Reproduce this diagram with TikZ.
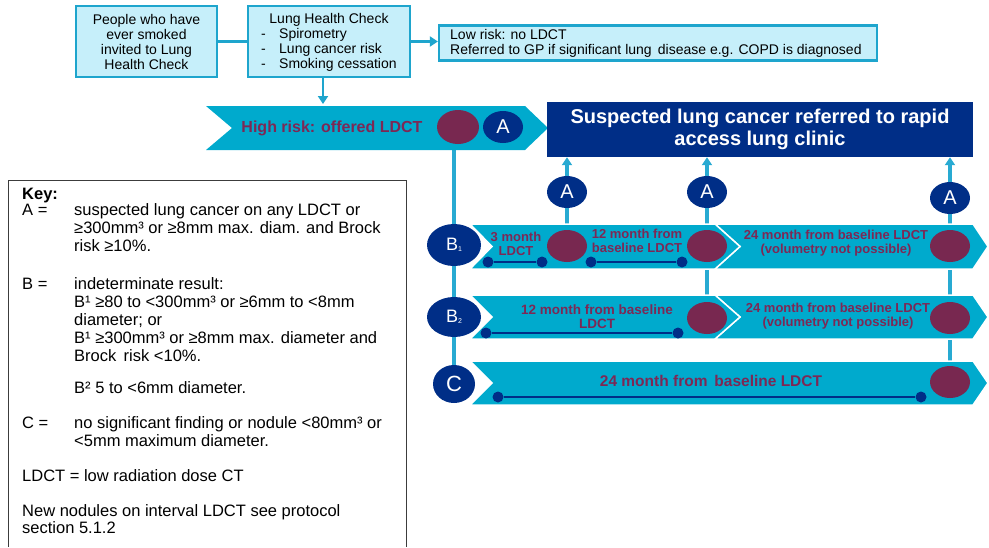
\documentclass[tikz,border=0pt]{standalone}
\usepackage{fontspec}
\setmainfont{Liberation Sans}
\usetikzlibrary{shapes.geometric,arrows.meta}
\definecolor{band}{RGB}{0,170,205}
\definecolor{boxfill}{RGB}{198,239,250}
\definecolor{boxedge}{RGB}{30,165,205}
\definecolor{vcol}{RGB}{40,170,210}
\definecolor{navy}{RGB}{0,46,135}
\definecolor{maroon}{RGB}{120,40,80}
\definecolor{plum}{RGB}{125,40,85}
\definecolor{keyedge}{RGB}{60,60,60}
\newcommand\setfs[2]{\fontsize{#1}{#2}\selectfont}
\pgfdeclarelayer{bg}\pgfdeclarelayer{mid}\pgfsetlayers{bg,mid,main}
\begin{document}
\begin{tikzpicture}[x=1pt,y=-1pt,
  lbox/.style={draw=boxedge, fill=boxfill, line width=2.2pt, inner sep=0},
  conn/.style={draw=boxedge, line width=2.4pt},
  arr/.style={-{Triangle[length=8pt,width=10pt]}},
  small/.style={font=\setfs{14}{15}, inner sep=0, text height=10, text depth=3},
  navyell/.style={ellipse, fill=navy, minimum width=40, minimum height=32, inner sep=0, text=white, font=\setfs{20}{20}},
  bell/.style={ellipse, fill=navy, minimum width=54, minimum height=42, inner sep=0, text=white, font=\setfs{18}{18}},
  marell/.style={ellipse, fill=maroon, minimum width=42, minimum height=34, inner sep=0},
  rowt/.style={text=plum, font=\bfseries\setfs{13}{14}, align=center, inner sep=0},
  vline/.style={draw=vcol, line width=3.4pt},
  dot/.style={circle, fill=navy, minimum size=11, inner sep=0},
  tl/.style={draw=navy, line width=2.2pt},
  keyt/.style={anchor=west, font=\setfs{16.5}{17}, text height=11, text depth=1, inner sep=0},
  segs/.style={fill=band, draw=white, line width=1.5pt, line join=miter}
]
\useasboundingbox (0,0) rectangle (989,547);

% ---------- top boxes ----------
\node[lbox, minimum width=141, minimum height=71, align=center, font=\setfs{14}{15}] (invite) at (146.5,41.5)
  {People who have\\ever smoked\\invited to Lung\\Health Check};
\node[lbox, minimum width=162, minimum height=71] (lhc) at (329,41.5) {};
\node[small] (lhct) at (329,20) {Lung Health Check};
\node[small, anchor=west] (lhcd1) at (261,35) {-};
\node[small, anchor=west] (lhci1) at (279,35) {Spirometry};
\node[small, anchor=west] (lhcd2) at (261,50) {-};
\node[small, anchor=west] (lhci2) at (279,50) {Lung cancer risk};
\node[small, anchor=west] (lhcd3) at (261,65) {-};
\node[small, anchor=west] (lhci3) at (279,65) {Smoking cessation};
\node[lbox, minimum width=438, minimum height=35] (low) at (658,43) {};
\node[small, anchor=west] (low1) at (450,36) {Low risk: no LDCT};
\node[small, anchor=west] (low2) at (450,51) {Referred to GP if significant lung\, disease e.g. COPD is diagnosed};

\draw[conn] (invite) -- (lhc);
\draw[conn, arr] (lhc.east) -- (lhc.east -| low.west);

% ---------- high risk chevron ----------
\coordinate (hrtop) at (323,104);
\coordinate (hrbot) at (454,150);
\begin{pgfonlayer}{mid}
\fill[band] (206,106) -- (525,106) -- (548,128) -- (525,150) -- (206,150) -- (232,128) -- cycle;
\end{pgfonlayer}
\draw[conn, arr] (hrtop |- lhc.south) -- (hrtop);
\node[text=plum, font=\bfseries\setfs{16}{16}, inner sep=0] (hrtext) at (332,128) {High risk: offered LDCT};
\node[marell] (mhr) at (458,127) {};
\node[navyell] (ahr) at (503,127) {A};

% ---------- clinic box ----------
\node[fill=navy, minimum width=426, minimum height=55, inner sep=0, text=white,
      font=\bfseries\setfs{20}{22}, align=center] (clinic) at (760,129.5)
  {Suspected lung cancer referred to rapid\\access lung clinic};

% ---------- row chevrons ----------
\begin{pgfonlayer}{mid}
\path[segs] (715,224) -- (973,224) -- (988,246.5) -- (973,269) -- (715,269) -- (740,246.5) -- cycle;
\path[segs] (470,224) -- (715,224) -- (740,246.5) -- (715,269) -- (470,269) -- (492,246.5) -- cycle;
\path[segs] (715,295) -- (973,295) -- (988,317) -- (973,339) -- (715,339) -- (740,317) -- cycle;
\path[segs] (470,295) -- (715,295) -- (740,317) -- (715,339) -- (470,339) -- (492,317) -- cycle;
\path[segs] (470,361) -- (973,361) -- (988,383) -- (973,405) -- (470,405) -- (492,383) -- cycle;
\end{pgfonlayer}

% left category nodes
\node[bell] (B1) at (454,245) {B\raisebox{-1pt}{\setfs{7}{7}1}};
\node[bell, minimum height=40] (B2) at (454,317) {B\raisebox{-1pt}{\setfs{7}{7}2}};
\node[bell, minimum width=42, minimum height=38, font=\setfs{22}{22}] (C) at (454,384) {C};

% maroon result nodes
\node[marell, minimum width=40, minimum height=32] (m11) at (567,246) {};
\node[marell, minimum width=40, minimum height=32] (m12) at (707,246) {};
\node[marell, minimum width=40, minimum height=32] (m13) at (950,246) {};
\node[marell, minimum width=40, minimum height=32] (m21) at (707,318) {};
\node[marell, minimum width=40, minimum height=32] (m23) at (950,318) {};
\node[marell, minimum width=40, minimum height=32] (m3) at (950,382) {};

% A nodes
\node[navyell] (a1) at (567,192) {A};
\node[navyell] (a2) at (707,192) {A};
\node[navyell] (a3) at (950,198) {A};

% row texts
\node[rowt] (t11) at (516,244) {3 month\\LDCT};
\node[rowt] (t12) at (637,241) {12 month from\\baseline LDCT};
\node[rowt] (t13) at (836,243) {24 month from baseline LDCT\\(volumetry not possible)};
\node[rowt, font=\bfseries\setfs{13.5}{14}] (t21) at (597,317) {12 month from baseline\\LDCT};
\node[rowt] (t22) at (838,316) {24 month from baseline LDCT\\(volumetry not possible)};
\node[rowt, font=\bfseries\setfs{15.5}{16}] (t3) at (711,381) {24 month from\, baseline LDCT};

% timelines
\node[dot] (d1a) at (488,262) {};
\node[dot] (d1b) at (542,262) {};
\node[dot] (d1c) at (591,262) {};
\node[dot] (d1d) at (682,262) {};
\node[dot] (d2a) at (486,333) {};
\node[dot] (d2b) at (678,333) {};
\node[dot] (d3a) at (498,397) {};
\node[dot] (d3b) at (921,397) {};
\draw[tl] (d1a) -- (d1b);
\draw[tl] (d1c) -- (d1d);
\draw[tl] (d2a) -- (d2b);
\draw[tl] (d3a) -- (d3b);

% vertical connectors (behind)
\begin{pgfonlayer}{bg}
\draw[vline] (hrbot) -- (C);
\draw[vline, arr] (m11) -- (m11 |- clinic.south);
\draw[vline, arr] (m12) -- (m12 |- clinic.south);
\draw[vline, arr] (m13) -- (m13 |- clinic.south);
\draw[vline] (m12) -- (m21);
\draw[vline] (m13) -- (m3);
\end{pgfonlayer}

% ---------- key ----------
\draw[draw=keyedge, line width=1pt] (8,547) -- (8,180) -- (406,180) -- (406,547);
\node[keyt, font=\bfseries\setfs{16.5}{17}] (k0) at (22,194) {Key:};
\node[keyt] (kA) at (22,210) {A =};
\node[keyt] (kA1) at (74,210) {suspected lung cancer on any LDCT or};
\node[keyt] (kA2) at (74,228) {≥300mm³ or ≥8mm max. diam. and Brock};
\node[keyt] (kA3) at (74,246) {risk ≥10\%.};
\node[keyt] (kB) at (22,284) {B =};
\node[keyt] (kB1) at (74,284) {indeterminate result:};
\node[keyt] (kB2) at (74,302) {B¹ ≥80 to <300mm³ or ≥6mm to <8mm};
\node[keyt] (kB3) at (74,320) {diameter; or};
\node[keyt] (kB4) at (74,338) {B¹ ≥300mm³ or ≥8mm max. diameter and};
\node[keyt] (kB5) at (74,356) {Brock\, risk <10\%.};
\node[keyt] (kB6) at (74,388) {B² 5 to <6mm diameter.};
\node[keyt] (kC) at (22,423) {C =};
\node[keyt] (kC1) at (74,423) {no significant finding or nodule <80mm³ or};
\node[keyt] (kC2) at (74,441) {<5mm maximum diameter.};
\node[keyt] (kL) at (22,476) {LDCT = low radiation dose CT};
\node[keyt] (kN1) at (22,511) {New nodules on interval LDCT see protocol};
\node[keyt] (kN2) at (22,528) {section 5.1.2};
\end{tikzpicture}
\end{document}
